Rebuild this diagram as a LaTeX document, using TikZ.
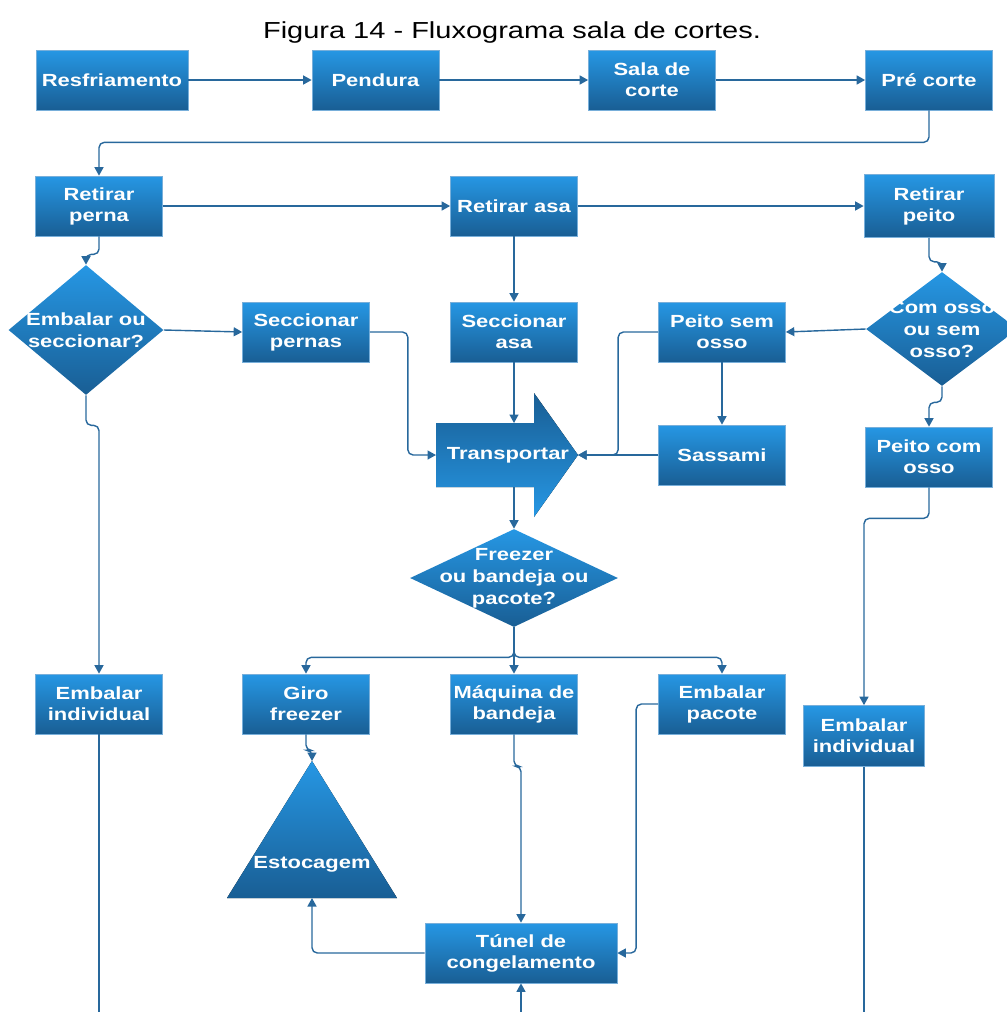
\documentclass[tikz,border=0pt]{standalone}
\usepackage{fontspec}
\setmainfont{Liberation Sans}[FakeStretch=1.25]
\usetikzlibrary{arrows.meta,calc,positioning,shapes.geometric}
\definecolor{flowtop}{RGB}{38,151,228}
\definecolor{flowbot}{RGB}{25,94,148}
\definecolor{flowedge}{RGB}{120,175,218}
\definecolor{flowline}{RGB}{40,104,156}

\begin{document}
\begin{tikzpicture}[x=0.02cm,y=-0.02cm,>={Triangle[length=1.7mm,width=1.8mm]},
    box/.style={rectangle,draw=flowedge,line width=0.4pt,top color=flowtop,bottom color=flowbot,
      text=white,font={\fontsize{10}{12}\selectfont\bfseries},align=center,
      minimum width=2.54cm,minimum height=1.2cm,inner sep=1pt},
    dec/.style={diamond,top color=flowtop,bottom color=flowbot,inner sep=0pt},
    dectxt/.style={text=white,font={\fontsize{10}{12.5}\selectfont\bfseries},align=center,inner sep=0pt},
    flow/.style={draw=flowline,line width=0.8pt,rounded corners=3pt,->},
    plain/.style={draw=flowline,line width=0.8pt}]
    \useasboundingbox (0,0) rectangle (1007,1012);
    \node[anchor=base,font={\fontsize{13.2}{15}\selectfont}] (title) at (512,38) {Figura 14 - Fluxograma sala de cortes.};
    % first row
    \node[box,minimum width=3.04cm] (res) at (112,80) {Resfriamento};
    \node[box] (pen) at (375.5,80) {Pendura};
    \node[box] (sala) at (652,80) {Sala de\\corte};
    \node[box] (prec) at (929,80) {Pré corte};
    % second row
    \node[box] (rperna) at (99,206) {Retirar\\perna};
    \node[box] (rasa) at (514,206) {Retirar asa};
    \node[box,minimum width=2.6cm,minimum height=1.26cm] (rpeito) at (929,206) {Retirar\\peito};
    % decisions and cuts
    \node[dec,minimum width=3.1cm,minimum height=2.6cm] (dec1) at (86,330) {};
    \node[dectxt] (dec1t) at (dec1) {Embalar ou\\seccionar?};
    \node[box] (secp) at (306,332) {Seccionar\\pernas};
    \node[box] (seca) at (514,332) {Seccionar\\asa};
    \node[box] (psem) at (722,332) {Peito sem\\osso};
    \node[dec,minimum width=3.04cm,minimum height=2.28cm] (dec2) at (942,329) {};
    \node[dectxt] (dec2t) at (dec2) {Com osso\\ou sem\\osso?};
    \node[box] (sass) at (722,455) {Sassami};
    \node[box] (pcom) at (929,457) {Peito com\\osso};
    % transport arrow
    \coordinate (tleft) at (436,455);
    \coordinate (ttop) at (514,423);
    \coordinate (tbot) at (514,487);
    \coordinate (ttip) at (578,455);
    \fill[top color=flowbot,bottom color=flowtop] (436,423) -- (534,423) -- (534,393) -- (ttip)
      -- (534,517) -- (534,487) -- (436,487) -- cycle;
    \node[text=white,font={\fontsize{10}{12}\selectfont\bfseries}] (transp) at (508,455) {Transportar};
    \node[dec,minimum width=4.16cm,minimum height=1.96cm] (dec3) at (514,578) {};
    \node[dectxt] (dec3t) at (dec3) {Freezer\\ou bandeja ou\\pacote?};
    % packing row
    \node[box] (embind) at (99,704) {Embalar\\individual};
    \node[box] (giro) at (306,704) {Giro\\freezer};
    \node[box] (maq) at (514,704) {Máquina de\\bandeja};
    \node[box] (pacote) at (722,704) {Embalar\\pacote};
    \node[box,minimum width=2.42cm,minimum height=1.22cm] (embind2) at (864,736) {Embalar\\individual};
    % storage
    \coordinate (stoapex) at (312,761);
    \coordinate (stobase) at (312,898);
    \fill[top color=flowtop,bottom color=flowbot] (stoapex) -- (397,898) -- (227,898) -- cycle;
    \node[text=white,font={\fontsize{10}{12}\selectfont\bfseries}] (sto) at (312,864) {Estocagem};
    \node[box,minimum width=3.84cm] (tunel) at (521,953) {Túnel de\\congelamento};
    \coordinate (tunelin) at (521,1012);
    \coordinate (embout) at (99,1012);
    \coordinate (emb2out) at (864,1012);
    % connectors
    \draw[flow] (res) -- (pen);
    \draw[flow] (pen) -- (sala);
    \draw[flow] (sala) -- (prec);
    \draw[flow] (prec.south) -- ++(0,32) -| (rperna.north);
    \draw[flow] (rperna) -- (rasa);
    \draw[flow] (rasa) -- (rpeito);
    \draw[flow] (rperna.south) -- ++(0,18) -| (dec1.north);
    \draw[flow] (dec1.east) -- (secp.west);
    \draw[flow] (dec1.south) -- ++(0,30) -| (embind.north);
    \draw[flow] (secp.east) -- ++(38,0) |- (tleft);
    \draw[flow] (rasa) -- (seca);
    \draw[flow] (seca) -- (ttop);
    \draw[flow] (rpeito.south) -- ++(0,24) -| (dec2.north);
    \draw[flow] (dec2.west) -- (psem.east);
    \draw[flow] (dec2.south) -- ++(0,16) -| (pcom.north);
    \draw[flow] (psem) -- (sass);
    \draw[flow] (psem.west) -- ++(-40,0) |- (ttip);
    \draw[flow] (sass.west) -- (ttip);
    \draw[flow] (pcom.south) -- ++(0,31) -| (embind2.north);
    \draw[flow] (tbot) -- (dec3.north);
    \draw[flow] (dec3.south) -- ++(0,30) -| (giro.north);
    \draw[flow] (dec3.south) -- (maq.north);
    \draw[flow] (dec3.south) -- ++(0,30) -| (pacote.north);
    \draw[flow] (giro.south) -- ++(0,16) -| (stoapex);
    \draw[flow] (maq.south) -- ++(0,32) -| (tunel.north);
    \draw[flow] (pacote.west) -- ++(-22,0) |- (tunel.east);
    \draw[flow] (tunel.west) -| (stobase);
    \draw[flow] (tunelin) -- (tunel.south);
    \draw[plain] (embind.south) -- (embout);
    \draw[plain] (embind2.south) -- (emb2out);
\end{tikzpicture}
\end{document}
